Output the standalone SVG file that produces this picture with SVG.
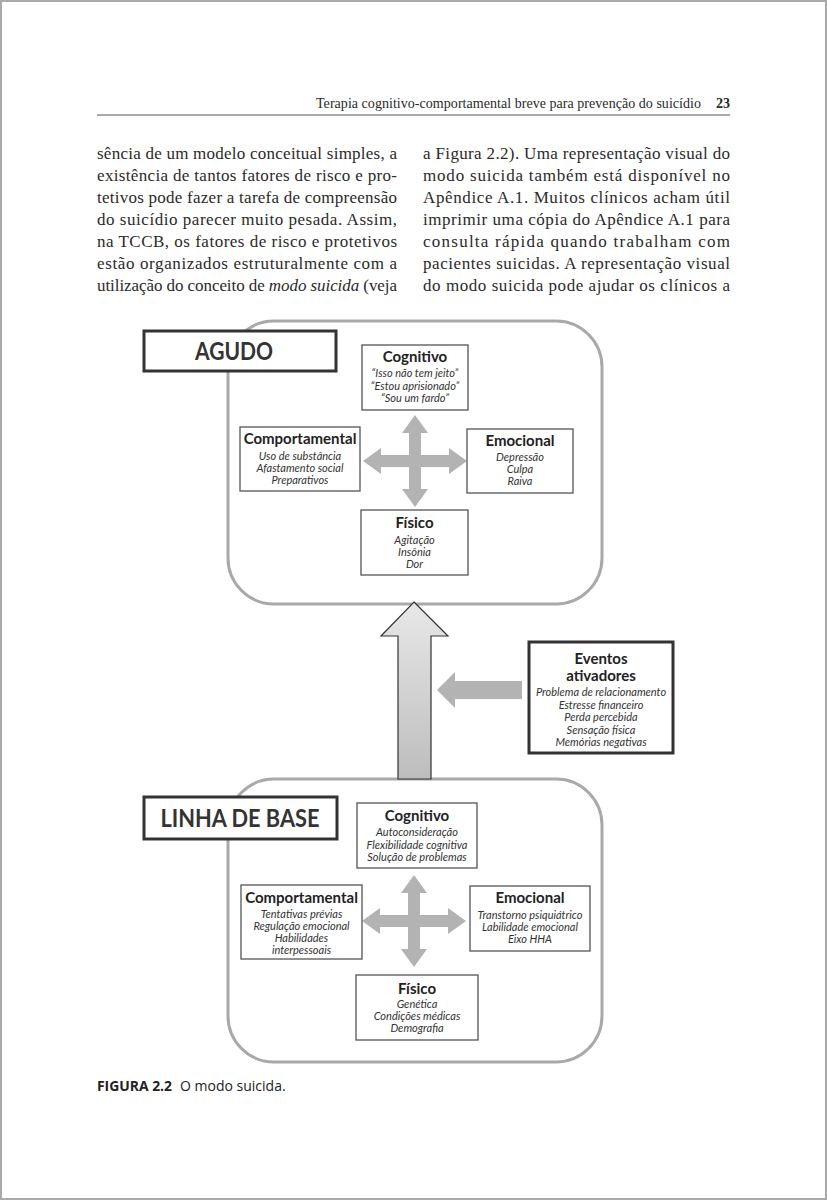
<svg xmlns="http://www.w3.org/2000/svg" width="827" height="1200" viewBox="0 0 827 1200">
<defs>
<style>
.body{font-family:"Liberation Serif","DejaVu Serif",serif;font-size:17px;fill:#2a2a2a}
.hdr{font-family:"Liberation Serif","DejaVu Serif",serif;font-size:14px;fill:#2a2a2a}
.panel{fill:#fff;stroke:#a9a9a9;stroke-width:3}
.label{fill:#fff;stroke:#333;stroke-width:3}
.labtxt{font-family:Lato,"Open Sans",sans-serif;font-weight:bold;font-size:25px;fill:#333;text-anchor:middle}
.box{fill:#fff;stroke:#555;stroke-width:1.3}
.ttl{font-family:Lato,"Open Sans",sans-serif;font-weight:bold;font-size:15px;fill:#222;text-anchor:middle}
.itm{font-family:Lato,"Open Sans",sans-serif;font-style:italic;font-size:11px;fill:#333;text-anchor:middle}
.cross{fill:#b3b3b3}
.cap{font-family:"Open Sans","Noto Sans",sans-serif;font-size:14px;fill:#222}
</style>
<linearGradient id="ug" x1="0" y1="0" x2="0" y2="1">
<stop offset="0" stop-color="#e8e8e8"/>
<stop offset="1" stop-color="#bdbdbd"/>
</linearGradient>
<path id="crossShape" d="M0,-46 L13,-28 L6,-28 L6,-6 L34,-6 L34,-13 L52,0 L34,13 L34,6 L6,6 L6,28 L13,28 L0,46 L-13,28 L-6,28 L-6,6 L-34,6 L-34,13 L-52,0 L-34,-13 L-34,-6 L-6,-6 L-6,-28 L-13,-28 Z"/>
</defs>
<rect x="0" y="0" width="827" height="1200" fill="#fff"/>
<rect x="1" y="1" width="825" height="1198" fill="none" stroke="#aaa" stroke-width="2"/>

<g id="header">
<text class="hdr" x="701" y="108" text-anchor="end" textLength="385" lengthAdjust="spacing">Terapia cognitivo-comportamental breve para prevenção do suicídio</text>
<text class="hdr" x="730" y="108" text-anchor="end" font-weight="bold">23</text>
<line x1="97" y1="115" x2="730" y2="115" stroke="#555" stroke-width="1"/>
</g>

<g id="bodytext">
<text class="body" x="97" y="159" textLength="300" lengthAdjust="spacing">sência de um modelo conceitual simples, a</text>
<text class="body" x="97" y="181" textLength="300" lengthAdjust="spacing">existência de tantos fatores de risco e pro-</text>
<text class="body" x="97" y="203" textLength="300" lengthAdjust="spacing">tetivos pode fazer a tarefa de compreensão</text>
<text class="body" x="97" y="225" textLength="300" lengthAdjust="spacing">do suicídio parecer muito pesada. Assim,</text>
<text class="body" x="97" y="247" textLength="300" lengthAdjust="spacing">na TCCB, os fatores de risco e protetivos</text>
<text class="body" x="97" y="269" textLength="300" lengthAdjust="spacing">estão organizados estruturalmente com a</text>
<text class="body" x="97" y="291" textLength="300" lengthAdjust="spacing">utilização do conceito de <tspan font-style="italic">modo suicida</tspan> (veja</text>
<text class="body" x="423" y="159" textLength="307" lengthAdjust="spacing">a Figura 2.2). Uma representação visual do</text>
<text class="body" x="423" y="181" textLength="307" lengthAdjust="spacing">modo suicida também está disponível no</text>
<text class="body" x="423" y="203" textLength="307" lengthAdjust="spacing">Apêndice A.1. Muitos clínicos acham útil</text>
<text class="body" x="423" y="225" textLength="307" lengthAdjust="spacing">imprimir uma cópia do Apêndice A.1 para</text>
<text class="body" x="423" y="247" textLength="307" lengthAdjust="spacing">consulta rápida quando trabalham com</text>
<text class="body" x="423" y="269" textLength="307" lengthAdjust="spacing">pacientes suicidas. A representação visual</text>
<text class="body" x="423" y="291" textLength="307" lengthAdjust="spacing">do modo suicida pode ajudar os clínicos a</text>
</g>

<g id="panel-agudo">
<rect class="panel" x="228" y="321" width="374" height="283" rx="46"/>
</g>
<g id="panel-base">
<rect class="panel" x="228" y="779" width="374" height="283" rx="46"/>
</g>

<g id="connectors">
<use href="#crossShape" class="cross" transform="translate(415,461)"/>
<use href="#crossShape" class="cross" transform="translate(414,921)"/>
<polygon points="414,602 448,636 431,636 431,779 398,779 398,636 381,636" fill="url(#ug)" stroke="#333" stroke-width="1.2" stroke-linejoin="miter"/>
<polygon class="cross" points="437,690 455,672 455,681 522,681 522,699 455,699 455,708"/>
</g>

<g id="label-agudo">
<rect class="label" x="144" y="331" width="192" height="40"/>
<text class="labtxt" x="234" y="360" textLength="78" lengthAdjust="spacingAndGlyphs">AGUDO</text>
</g>

<g id="agudo-cognitivo">
<rect class="box" x="362" y="345" width="106" height="65"/>
<text class="ttl" x="415" y="362">Cognitivo</text>
<text class="itm" x="415" y="377">“Isso não tem jeito”</text>
<text class="itm" x="415" y="389.5">“Estou aprisionado”</text>
<text class="itm" x="415" y="402">“Sou um fardo”</text>
</g>
<g id="agudo-comportamental">
<rect class="box" x="240" y="427" width="120" height="64"/>
<text class="ttl" x="300" y="444">Comportamental</text>
<text class="itm" x="300" y="460">Uso de substância</text>
<text class="itm" x="300" y="472">Afastamento social</text>
<text class="itm" x="300" y="484">Preparativos</text>
</g>
<g id="agudo-emocional">
<rect class="box" x="467" y="429" width="106" height="64"/>
<text class="ttl" x="520" y="446">Emocional</text>
<text class="itm" x="520" y="461">Depressão</text>
<text class="itm" x="520" y="473">Culpa</text>
<text class="itm" x="520" y="485">Raiva</text>
</g>
<g id="agudo-fisico">
<rect class="box" x="361" y="510" width="107" height="65"/>
<text class="ttl" x="414.5" y="528">Físico</text>
<text class="itm" x="414.5" y="544">Agitação</text>
<text class="itm" x="414.5" y="556">Insônia</text>
<text class="itm" x="414.5" y="568">Dor</text>
</g>

<g id="eventos">
<rect class="label" x="529" y="642" width="144" height="111"/>
<text class="ttl" x="601" y="664">Eventos</text>
<text class="ttl" x="601" y="681">ativadores</text>
<text class="itm" x="601" y="696">Problema de relacionamento</text>
<text class="itm" x="601" y="708.5">Estresse financeiro</text>
<text class="itm" x="601" y="721">Perda percebida</text>
<text class="itm" x="601" y="733.5">Sensação física</text>
<text class="itm" x="601" y="746">Memórias negativas</text>
</g>

<g id="label-base">
<rect class="label" x="144" y="797" width="193" height="42"/>
<text class="labtxt" x="240" y="827" textLength="159" lengthAdjust="spacingAndGlyphs">LINHA DE BASE</text>
</g>

<g id="base-cognitivo">
<rect class="box" x="357" y="803" width="120" height="65"/>
<text class="ttl" x="417" y="821">Cognitivo</text>
<text class="itm" x="417" y="836">Autoconsideração</text>
<text class="itm" x="417" y="848.5">Flexibilidade cognitiva</text>
<text class="itm" x="417" y="861">Solução de problemas</text>
</g>
<g id="base-comportamental">
<rect class="box" x="241" y="885" width="121" height="74"/>
<text class="ttl" x="301.5" y="903">Comportamental</text>
<text class="itm" x="301.5" y="918">Tentativas prévias</text>
<text class="itm" x="301.5" y="930">Regulação emocional</text>
<text class="itm" x="301.5" y="942">Habilidades</text>
<text class="itm" x="301.5" y="954">interpessoais</text>
</g>
<g id="base-emocional">
<rect class="box" x="470" y="886" width="120" height="65"/>
<text class="ttl" x="530" y="903">Emocional</text>
<text class="itm" x="530" y="919">Transtorno psiquiátrico</text>
<text class="itm" x="530" y="931">Labilidade emocional</text>
<text class="itm" x="530" y="943">Eixo HHA</text>
</g>
<g id="base-fisico">
<rect class="box" x="356" y="975" width="122" height="65"/>
<text class="ttl" x="417" y="994">Físico</text>
<text class="itm" x="417" y="1008">Genética</text>
<text class="itm" x="417" y="1020">Condições médicas</text>
<text class="itm" x="417" y="1032">Demografia</text>
</g>

<g id="caption">
<text class="cap" x="97" y="1091" font-weight="bold" textLength="75" lengthAdjust="spacingAndGlyphs">FIGURA 2.2</text>
<text class="cap" x="180" y="1091" font-size="13.2">O modo suicida.</text>
</g>
</svg>
